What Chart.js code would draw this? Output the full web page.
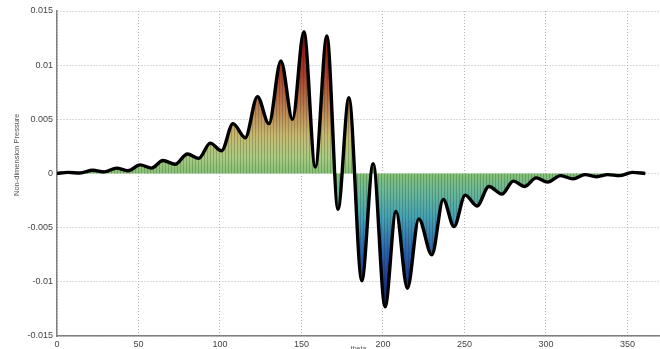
<!DOCTYPE html>
<html>
<head>
<meta charset="utf-8">
<script src="https://cdn.jsdelivr.net/npm/chart.js@4"></script>
<style>
  html, body { margin: 0; padding: 0; background: #fff; overflow: hidden; }
  #wrap { width: 660px; height: 356px; }
</style>
</head>
<body>
<div id="wrap"><canvas id="pressureChart"></canvas></div>
<script>
// Values (theta in degrees, pressure non-dimensional)
const thetaValues = [0, 6.7, 14, 22, 29, 36.5, 43.5, 51, 58, 65, 72.5, 80, 87, 94, 101, 108,
    115.5, 123, 130, 137.4, 144.5, 151.5, 158.5, 165.6, 172.4, 179.1, 187, 194, 201.3, 208,
    215, 222, 230, 237, 243.6, 250.5, 257.7, 265, 273, 280, 287, 294, 301, 309, 316.6, 324,
    331, 338, 345, 353, 361];
const pressureValues = [0, 0.0001, 0.00004, 0.0003, 0.00015, 0.0005, 0.00025, 0.0008, 0.0005,
    0.0012, 0.00085, 0.0018, 0.0014, 0.0028, 0.0021, 0.0046, 0.0033, 0.0071, 0.0046, 0.0104,
    0.005, 0.0131, 0.0006, 0.0127, -0.0033, 0.0070, -0.0099, 0.0009, -0.0123, -0.0035,
    -0.0106, -0.0042, -0.0075, -0.0024, -0.0049, -0.0020, -0.0030, -0.0012, -0.0019, -0.0007,
    -0.0012, -0.0004, -0.0008, -0.0002, -0.0005, -0.0001, -0.0003, -0.0001, -0.0002, 0.0001, 0];
const xTicks = [0, 50, 100, 150, 200, 250, 300, 350];
const yTicks = [-0.015, -0.01, -0.005, 0, 0.005, 0.01, 0.015];

// colour map stops (value -> colour), jet-like but muted as in the figure
const colourStops = [
    [0.015, '#6a0c0c'],
    [0.012, '#8e1a14'],
    [0.009, '#a8402a'],
    [0.006, '#bb8050'],
    [0.0035, '#c8b870'],
    [0.0015, '#a9cb82'],
    [0, '#86c276'],
    [-0.0015, '#6cb896'],
    [-0.004, '#45a2b4'],
    [-0.007, '#2c66ae'],
    [-0.01, '#1c3592'],
    [-0.015, '#0c1460']
];

const points = thetaValues.map((t, i) => ({ x: t, y: pressureValues[i] }));

function mapFill(context) {
    const chart = context.chart;
    const area = chart.chartArea;
    if (!area) return '#86c276';
    const y = chart.scales.y;
    const top = y.getPixelForValue(0.015);
    const bottom = y.getPixelForValue(-0.015);
    const g = chart.ctx.createLinearGradient(0, top, 0, bottom);
    colourStops.forEach(([v, c]) => {
        g.addColorStop((y.getPixelForValue(v) - top) / (bottom - top), c);
    });
    return g;
}

// thin vertical stripes, like the mesh lines of the surface
function stripePattern() {
    const p = document.createElement('canvas');
    p.width = 3;
    p.height = 4;
    const c = p.getContext('2d');
    c.fillStyle = 'rgba(20, 40, 20, 0.22)';
    c.fillRect(0, 0, 1, 4);
    return c.createPattern(p, 'repeat');
}

const gridStyle = {
    color: '#b4b4b4',
    lineWidth: 1,
    tickLength: 0,
    drawTicks: false
};

new Chart(document.getElementById('pressureChart'), {
    type: 'line',
    data: {
        datasets: [{
            data: points,
            borderColor: '#000',
            borderWidth: 3.4,
            backgroundColor: stripePattern(),
            fill: 'origin',
            pointRadius: 0,
            cubicInterpolationMode: 'monotone'
        }, {
            data: points,
            borderWidth: 0,
            backgroundColor: mapFill,
            fill: 'origin',
            pointRadius: 0,
            cubicInterpolationMode: 'monotone'
        }]
    },
    options: {
        responsive: true,
        maintainAspectRatio: false,
        animation: false,
        layout: { padding: { top: 11, right: 0, left: 0, bottom: 0 } },
        plugins: {
            legend: { display: false },
            tooltip: { enabled: false }
        },
        scales: {
            x: {
                type: 'linear',
                min: 0,
                max: 370,
                afterBuildTicks: s => { s.ticks = xTicks.map(v => ({ value: v })); },
                afterFit: s => { s.height = 20; },
                grid: { ...gridStyle },
                border: { display: true, color: '#808080', width: 1.5, dash: [1, 2] },
                ticks: {
                    padding: 3,
                    color: '#444',
                    font: { family: 'Liberation Sans', size: 9 },
                    maxRotation: 0
                },
                title: {
                    display: true,
                    text: 'theta',
                    color: '#555',
                    font: { family: 'Liberation Sans', size: 7 },
                    padding: { top: 0, bottom: 2.5 }
                }
            },
            y: {
                type: 'linear',
                min: -0.015,
                max: 0.015,
                afterBuildTicks: s => { s.ticks = yTicks.map(v => ({ value: v })); },
                afterFit: s => { s.width = 57; },
                grid: { ...gridStyle },
                border: { display: true, color: '#808080', width: 1.5, dash: [1, 2] },
                ticks: {
                    padding: 4,
                    color: '#444',
                    font: { family: 'Liberation Sans', size: 9 },
                    callback: v => String(+v.toFixed(3))
                },
                title: {
                    display: true,
                    text: '                  Non-dimension Pressure',
                    color: '#555',
                    font: { family: 'Liberation Sans', size: 7.5 },
                    padding: { top: 12, bottom: 0 }
                }
            }
        }
    }
});
</script>
</body>
</html>
